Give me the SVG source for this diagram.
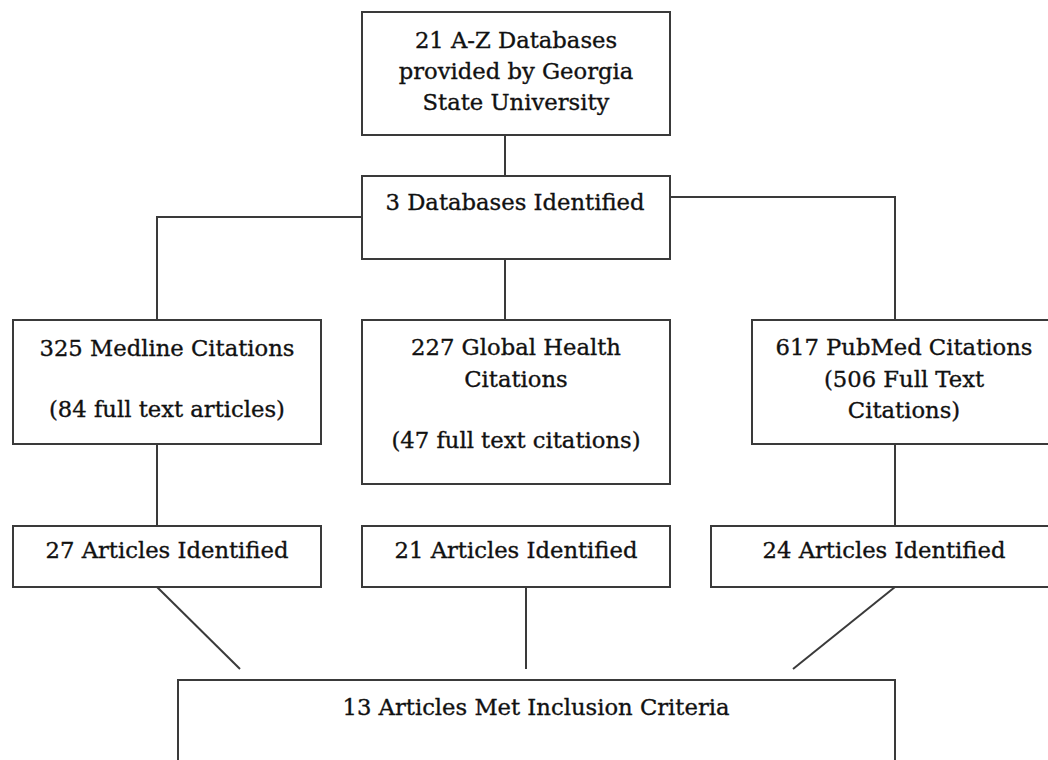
<svg xmlns="http://www.w3.org/2000/svg" width="1048" height="760" viewBox="0 0 1048 760">
<style>
.box{fill:#fff;stroke:#3a3a3a;stroke-width:2}
.ln{fill:none;stroke:#3a3a3a;stroke-width:2}
text{font-family:"DejaVu Serif","Liberation Serif",serif;font-size:22.7px;fill:#111;stroke:#111;stroke-width:0.35;text-anchor:middle}
</style>
<rect width="1048" height="760" fill="#fff"/>
<g id="connectors">
<line class="ln" x1="505" y1="135" x2="505" y2="176"/>
<line class="ln" x1="505" y1="259" x2="505" y2="320"/>
<polyline class="ln" points="362,217 157,217 157,320"/>
<polyline class="ln" points="670,197 895,197 895,320"/>
<line class="ln" x1="157" y1="444" x2="157" y2="526"/>
<line class="ln" x1="895" y1="444" x2="895" y2="526"/>
<line class="ln" x1="157" y1="587" x2="240" y2="669"/>
<line class="ln" x1="526" y1="587" x2="526" y2="669"/>
<line class="ln" x1="895" y1="587" x2="793" y2="669"/>
</g>
<g id="n-az">
<rect class="box" x="362" y="12" width="308" height="123"/>
<text x="516" y="48">21 A-Z Databases</text>
<text x="516" y="79">provided by Georgia</text>
<text x="516" y="110">State University</text>
</g>
<g id="n-3db">
<rect class="box" x="362" y="176" width="308" height="83"/>
<text x="515" y="210">3 Databases Identified</text>
</g>
<g id="n-medline">
<rect class="box" x="13" y="320" width="308" height="124"/>
<text x="167" y="356">325 Medline Citations</text>
<text x="167" y="417">(84 full text articles)</text>
</g>
<g id="n-global">
<rect class="box" x="362" y="320" width="308" height="164"/>
<text x="516" y="355">227 Global Health</text>
<text x="516" y="387">Citations</text>
<text x="516" y="448">(47 full text citations)</text>
</g>
<g id="n-pubmed">
<rect class="box" x="752" y="320" width="306" height="124"/>
<text x="904" y="355">617 PubMed Citations</text>
<text x="904" y="387">(506 Full Text</text>
<text x="904" y="418">Citations)</text>
</g>
<g id="n-27">
<rect class="box" x="13" y="526" width="308" height="61"/>
<text x="167" y="558">27 Articles Identified</text>
</g>
<g id="n-21">
<rect class="box" x="362" y="526" width="308" height="61"/>
<text x="516" y="558">21 Articles Identified</text>
</g>
<g id="n-24">
<rect class="box" x="711" y="526" width="346" height="61"/>
<text x="884" y="558">24 Articles Identified</text>
</g>
<g id="n-13">
<rect class="box" x="178" y="680" width="717" height="100"/>
<text x="536" y="715">13 Articles Met Inclusion Criteria</text>
</g>
</svg>
